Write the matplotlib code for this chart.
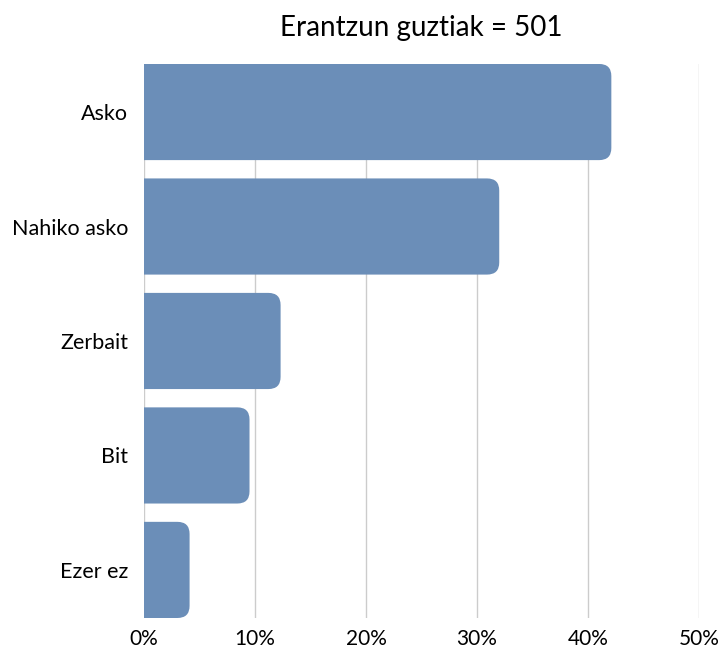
import matplotlib
matplotlib.use("Agg")
import matplotlib.pyplot as plt
from matplotlib.patches import FancyBboxPatch
from matplotlib.ticker import FuncFormatter

categories = ["Asko", "Nahiko asko", "Zerbait", "Bit", "Ezer ez"]
values = [42.1, 32.0, 12.3, 9.5, 4.1]
title = "Erantzun guztiak = 501"
xticks = [0, 10, 20, 30, 40, 50]

bar_color = "#6b8eb8"
plt.rcParams["font.family"] = ["Lato", "DejaVu Sans"]

fig = plt.figure(figsize=(7.24, 6.48), dpi=100)
ax = fig.add_axes([0.199, 0.0463, 0.7665, 0.855])

bars = ax.barh(range(len(categories)), values, height=0.84, color=bar_color)
ax.set_xlim(0, 50)
ax.set_ylim(4.42, -0.42)

# swap plain bars for ones with rounded right corners
radius = 1.1             # in x units (percent)
aspect = 0.106 / radius  # y radius / x radius
for b in bars:
    x, y = b.get_x(), b.get_y()
    w, h = b.get_width(), b.get_height()
    patch = FancyBboxPatch((x - 3, y), w + 3, h,
                           boxstyle=f"round,pad=0,rounding_size={radius}",
                           mutation_aspect=aspect,
                           facecolor=bar_color, edgecolor="none", zorder=2)
    patch.set_clip_path(ax.patch)
    ax.add_patch(patch)
    b.remove()

ax.set_yticks(range(len(categories)))
ax.set_yticklabels(categories, fontsize=15.5)
ax.set_xticks(xticks)
ax.xaxis.set_major_formatter(FuncFormatter(lambda v, _: f"{v:.0f}%"))
ax.tick_params(axis="x", labelsize=15, length=0, pad=8)
ax.tick_params(axis="y", length=0, pad=11.5)
ax.grid(axis="x", color="#cccccc", linewidth=1)
ax.set_axisbelow(True)
for s in ax.spines.values():
    s.set_visible(False)

ax.set_title(title, fontsize=20, pad=20)

fig.savefig("out.png", dpi=100)
